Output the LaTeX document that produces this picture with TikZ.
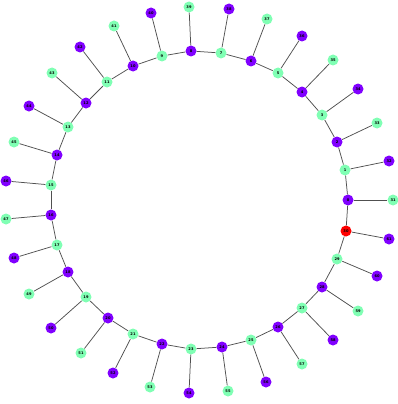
\documentclass[tikz,border=0pt]{standalone}
\usepackage{fontspec}
\setsansfont{DejaVu Sans}
\definecolor{ngreen}{RGB}{128,255,180}
\definecolor{npurple}{RGB}{128,0,255}
\definecolor{nred}{RGB}{255,0,0}
\definecolor{edgec}{RGB}{80,80,80}
\tikzset{
  vtx/.style={circle, inner sep=0pt, minimum size=11pt, font=\sffamily\bfseries\fontsize{3.6}{4}\selectfont, text=black},
  vg/.style={vtx, fill=ngreen},
  vp/.style={vtx, fill=npurple},
  vr/.style={vtx, fill=nred},
  edg/.style={draw=edgec, line width=0.75pt}
}
\begin{document}
\begin{tikzpicture}[x=1pt,y=-1pt]
\useasboundingbox (0,0) rectangle (398,404);
\foreach \n/\x/\y/\s in {
0/348/200/vp, 1/345/170/vg, 2/337/142/vp, 3/322/115/vg, 4/302/92/vp,
5/278/73/vg, 6/251/61/vp, 7/221/53/vg, 8/191/51/vp, 9/162/56/vg,
10/133/66/vp, 11/107/82/vg, 12/86/103/vp, 13/68/127/vg, 14/57/155/vp,
15/51/185/vg, 16/51/215/vp, 17/57/245/vg, 18/68/272/vp, 19/86/297/vg,
20/108/318/vp, 21/133/334/vg, 22/162/344/vp, 23/191/349/vg, 24/222/347/vp,
25/251/340/vg, 26/278/327/vp, 27/302/308/vg, 28/322/287/vp, 29/337/259/vg,
30/346/231/vr,
31/393/200/vg, 32/389/161/vp, 33/377/123/vg, 34/358/89/vp, 35/333/60/vg,
36/302/36/vp, 37/267/19/vg, 38/229/9/vp, 39/189/7/vg, 40/151/13/vp,
41/114/26/vg, 42/80/47/vp, 43/52/73/vg, 44/29/106/vp, 45/14/142/vg,
46/6/181/vp, 47/6/219/vg, 48/14/258/vp, 49/29/294/vg, 50/51/328/vp,
51/81/353/vg, 52/113/373/vp, 53/150/387/vg, 54/189/393/vp, 55/228/391/vg,
56/266/382/vp, 57/302/364/vg, 58/333/340/vp, 59/358/311/vg, 60/377/276/vp,
61/389/239/vp}
  \node[\s] (n\n) at (\x,\y) {\n};
% edges: ring and pendants
\foreach \i [evaluate=\i as \j using {int(mod(\i+1,31))}, evaluate=\i as \k using {int(\i+31)}] in {0,...,30} {
  \draw[edg] (n\i) -- (n\j);
  \draw[edg] (n\i) -- (n\k);
}
\end{tikzpicture}
\end{document}
